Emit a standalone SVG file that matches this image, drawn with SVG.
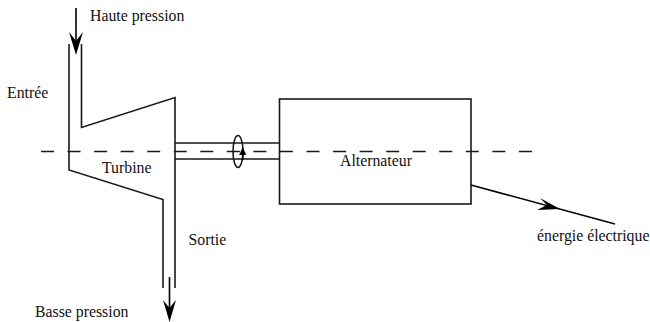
<svg xmlns="http://www.w3.org/2000/svg" width="650" height="322" viewBox="0 0 650 322">
<style>
.l{fill:none;stroke:#1a1a1a;stroke-width:1.6}
.a{fill:none;stroke:#000;stroke-width:1.6}
.h{fill:#000;stroke:none}
text{font-family:"Liberation Serif",serif;font-size:15.800px;fill:#111}
</style>
<rect width="650" height="322" fill="#fff"/>
<g id="turbine">
<path class="l" d="M69 44V170L163 199.500V288M81.500 44V127.500L175 97.500V288"/>
<text x="102" y="173">Turbine</text>
</g>
<g id="arbre">
<path class="l" d="M175 143H279.500M175 159H279.500"/>
<ellipse class="l" cx="238" cy="151.500" rx="5" ry="16"/>
</g>
<g id="alternateur">
<rect class="l" x="279.500" y="99" width="191.500" height="105"/>
<text x="340" y="166">Alternateur</text>
</g>
<g id="labels">
<text x="90" y="21">Haute pression</text>
<text x="7" y="98">Entrée</text>
<text x="188.500" y="245">Sortie</text>
<text x="35" y="317">Basse pression</text>
<text x="537" y="241">énergie électrique</text>
</g>
<g id="connectors">
<path d="M41 151.500H532" fill="none" stroke="#1a1a1a" stroke-width="1.600" stroke-dasharray="13 13.550"/>
<path class="a" d="M76 8V44"/>
<path class="h" d="M69 32L76 41L83 32L76 55Z"/>
<path class="a" d="M169.500 277V308"/>
<path class="h" d="M163 300L169.500 308L176 300L169.500 322Z"/>
<path class="a" d="M242.700 160V152"/>
<path class="h" d="M239.200 155L242.700 147L246.200 155Z"/>
<path class="a" d="M471 185L615 224"/>
<path class="h" d="M540 198L560 209L537 210L547 205Z"/>
</g>
</svg>
